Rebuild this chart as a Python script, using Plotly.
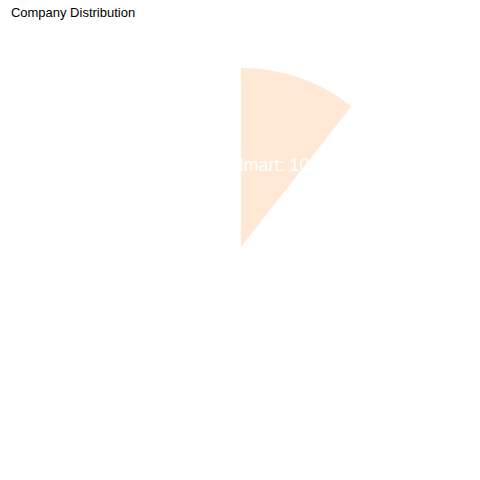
import plotly.graph_objects as go

labels = ["Walmart", "Amazon", "Apple", "CVS Health", "UnitedHealth", "Exxon Mobil", "Berkshire Hathaway"]
shares = [10, 18, 16, 14, 13, 12, 11.4]
colors = ["#FFE8D6", "white", "white", "white", "white", "white", "white"]
# only the visible (coloured) slice carries a readable label
label_templates = ["%{label}: %{value}%", "", "", "", "", "", ""]

fig = go.Figure()
# slices
fig.add_trace(go.Pie(
    labels=labels,
    values=shares,
    sort=False,
    direction="clockwise",
    rotation=0,
    marker=dict(colors=colors, line=dict(width=0)),
    textinfo="none",
    showlegend=False,
    hoverinfo="skip",
))
# slice labels (white text, centred at about half the radius)
fig.add_trace(go.Pie(
    labels=labels,
    values=shares,
    sort=False,
    direction="clockwise",
    rotation=0,
    domain=dict(x=[0.1909, 0.8091], y=[0.1788, 0.8212]),
    marker=dict(colors=["rgba(0,0,0,0)"] * len(labels), line=dict(width=0)),
    texttemplate=label_templates,
    textposition="inside",
    insidetextorientation="horizontal",
    textfont=dict(color="white", size=18, family="Arial"),
    showlegend=False,
))
fig.update_layout(
    width=480, height=480,
    title=dict(text="Company Distribution", x=0.006, xanchor="left", xref="container",
               y=1, yanchor="top", yref="container",
               font=dict(size=13, color="black", family="Arial")),
    font=dict(family="Arial"),
    uniformtext=dict(minsize=18, mode="show"),
    margin=dict(l=47, r=61, t=60, b=62),
    paper_bgcolor="white",
)
fig.write_html("out.html")
